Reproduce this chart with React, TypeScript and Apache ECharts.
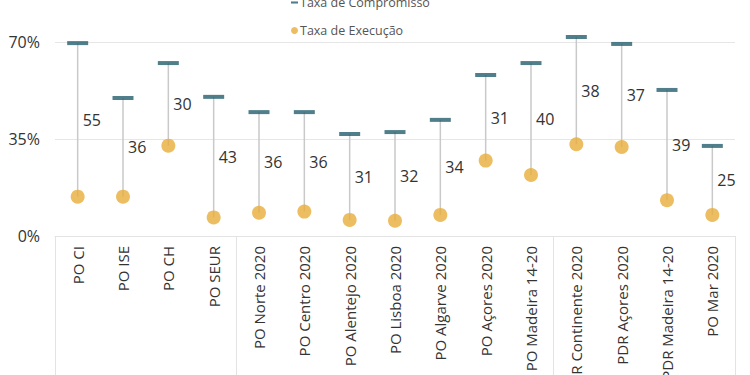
import React, { useEffect, useRef } from "react";
import * as echarts from "echarts";

const categories = [
  "PO CI", "PO ISE", "PO CH", "PO SEUR", "PO Norte 2020", "PO Centro 2020",
  "PO Alentejo 2020", "PO Lisboa 2020", "PO Algarve 2020", "PO Açores 2020",
  "PO Madeira 14-20", "PDR Continente 2020", "PDR Açores 2020", "PDR Madeira 14-20", "PO Mar 2020",
];
const taxaCompromisso = [69.6, 49.8, 62.4, 50.2, 44.7, 44.7, 36.8, 37.5, 41.9, 58.1, 62.4, 71.8, 69.3, 52.7, 32.5];
const taxaExecucao = [14.2, 14.2, 32.6, 6.7, 8.4, 8.8, 5.8, 5.5, 7.6, 27.2, 22.0, 33.1, 32.1, 12.9, 7.6];
const gapLabels = [55, 36, 30, 43, 36, 36, 31, 32, 34, 31, 40, 38, 37, 39, 25];
const yTicks = [0, 35, 70];
const groupStarts = [0, 4, 11];

const FONT = '"Open Sans", "Noto Sans", sans-serif';

export default function App() {
  const ref = useRef<HTMLDivElement>(null);
  useEffect(() => {
    if (!ref.current) return;
    const chart = echarts.init(ref.current, undefined, { renderer: "svg" });
    const stemData = categories.map((_, i) => [i, taxaCompromisso[i], taxaExecucao[i], gapLabels[i]]);
    chart.setOption({
      animation: false,
      backgroundColor: "#ffffff",
      textStyle: { fontFamily: FONT },
      legend: {
        orient: "vertical",
        left: 286,
        top: -9,
        itemGap: 15,
        itemWidth: 7,
        itemHeight: 7,
        textStyle: { fontSize: 12.5, color: "#555", fontFamily: FONT, padding: [0, 0, 0, -3] },
        data: [
          { name: "Taxa de Compromisso", icon: "path://M0,3h10v3h-10z" },
          { name: "Taxa de Execução", icon: "circle" },
        ],
      },
      grid: { left: 55, right: 15, top: 42, bottom: 139, containLabel: false, outerBoundsMode: "none" },
      xAxis: {
        type: "category",
        data: categories,
        boundaryGap: true,
        axisLine: { show: true, lineStyle: { color: "#e3e3e3", width: 1 } },
        axisTick: {
          show: true,
          length: 145,
          interval: (idx: number) => groupStarts.includes(idx),
          lineStyle: { color: "#e3e3e3", width: 1 },
        },
        axisLabel: {
          rotate: 90,
          interval: 0,
          margin: 10,
          fontSize: 15,
          color: "#333",
          fontFamily: FONT,
        },
      },
      yAxis: {
        type: "value",
        min: yTicks[0],
        max: yTicks[yTicks.length - 1],
        interval: 35,
        axisLine: { show: false },
        axisTick: { show: false },
        axisLabel: { formatter: "{value}%", fontSize: 16, color: "#333", margin: 15, fontFamily: FONT },
        splitLine: { lineStyle: { color: "#e6e6e6", width: 1 } },
      },
      series: [
        {
          type: "custom",
          name: "stems",
          data: stemData,
          z: 1,
          clip: false,
          renderItem: (params: any, api: any) => {
            const i = api.value(0);
            const top = api.coord([i, api.value(1)]);
            const bot = api.coord([i, api.value(2)]);
            return {
              type: "group",
              children: [
                {
                  type: "line",
                  shape: { x1: top[0], y1: top[1], x2: bot[0], y2: bot[1] },
                  style: { stroke: "#c9c9c9", lineWidth: 1.5 },
                },
                {
                  type: "text",
                  x: top[0] + 5,
                  y: (top[1] + bot[1]) / 2,
                  style: {
                    text: String(api.value(3)),
                    fill: "#333",
                    fontSize: 16,
                    fontFamily: FONT,
                    align: "left",
                    verticalAlign: "middle",
                  },
                },
              ],
            };
          },
        },
        {
          type: "scatter",
          name: "Taxa de Compromisso",
          data: taxaCompromisso,
          symbol: "rect",
          symbolSize: [21, 4],
          itemStyle: { color: "#245f6e" },
          clip: false,
          z: 3,
        },
        {
          type: "scatter",
          name: "Taxa de Execução",
          data: taxaExecucao,
          symbol: "circle",
          symbolSize: 14,
          itemStyle: { color: "#e9ae3a" },
          clip: false,
          z: 4,
        },
      ],
    });
    return () => chart.dispose();
  }, []);
  return <div ref={ref} style={{ position: "fixed", left: 0, top: 0, width: 750, height: 375 }} />;
}
